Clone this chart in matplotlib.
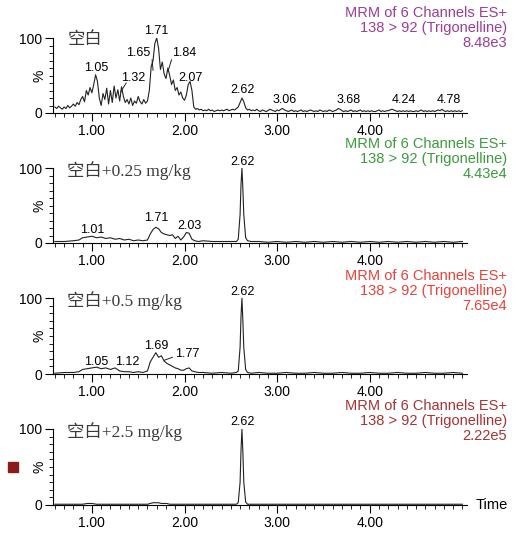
import numpy as np
import matplotlib
matplotlib.use("Agg")
import matplotlib.pyplot as plt
from matplotlib.ticker import MultipleLocator, FixedLocator
from matplotlib.patches import Rectangle

plt.rcParams['font.family'] = ['Liberation Sans', 'Noto Sans CJK SC']

# ---- data -------------------------------------------------------------
# blank sample: scan every 0.02 min from 0.60 to 5.00
t_blank = np.round(np.arange(0.60, 5.001, 0.02), 2)
i_blank = [
    8, 6, 9, 7, 5, 8, 6, 10, 7, 9,
    12, 9, 14, 11, 18, 22, 15, 30, 24, 34,
    27, 38, 51, 42, 20, 10, 26, 18, 33, 12,
    30, 14, 36, 20, 31, 16, 35, 22, 14, 18,
    12, 20, 10, 16, 13, 22, 15, 12, 18, 13,
    16, 30, 62, 70, 93, 100, 86, 58, 68, 52,
    46, 60, 50, 38, 44, 30, 34, 24, 28, 20,
    17, 24, 38, 42, 30, 8, 5, 6, 4, 5, 3,
    4, 3, 5, 3, 4, 2, 3, 4, 3, 4,
    3, 4, 5, 3, 4, 5, 4, 6, 8, 14,
    20, 15, 7, 4, 5, 3, 4, 3, 5, 3,
    2, 4, 3, 2, 3, 5, 4, 3, 2, 4,
    3, 5, 6, 4, 3, 2, 3, 4, 2, 3,
    2, 3, 4, 2, 3, 2, 3, 4, 3, 2,
    3, 2, 4, 3, 2, 3, 2, 4, 3, 2,
    3, 4, 6, 5, 3, 2, 3, 2, 3, 4,
    2, 3, 2, 3, 4, 2, 3, 2, 3, 2,
    3, 2, 2, 3, 4, 2, 3, 2, 3, 3,
    4, 5, 4, 3, 2, 3, 2, 3, 2, 3,
    2, 3, 2, 2, 3, 2, 3, 4, 2, 3,
    2, 3, 2, 3, 2, 3, 4, 3, 5, 3,
    2, 3, 2, 3, 2, 3, 2, 3, 2, 3,
]

# spiked samples
t_spk = [
    0.60, 0.70, 0.80, 0.86, 0.90, 0.95, 1.00, 1.05, 1.10, 1.15,
    1.20, 1.25, 1.30, 1.35, 1.40, 1.45, 1.50, 1.55, 1.60, 1.63,
    1.66, 1.69, 1.72, 1.75, 1.78, 1.81, 1.84, 1.87, 1.90, 1.93,
    1.96, 1.99, 2.02, 2.05, 2.08, 2.11, 2.15, 2.20, 2.30, 2.40,
    2.50, 2.56, 2.58, 2.60, 2.61, 2.62, 2.63, 2.64, 2.66, 2.68,
    2.72, 2.80, 2.90, 3.00, 3.10, 3.20, 3.30, 3.40, 3.50, 3.60,
    3.70, 3.80, 3.90, 4.00, 4.10, 4.20, 4.30, 4.40, 4.50, 4.60,
    4.70, 4.80, 4.90, 5.00,
]
i_025 = [
    2, 2, 3, 4, 7, 8, 9, 7, 8, 6,
    7, 5, 6, 4, 5, 3, 4, 3, 4, 12,
    18, 21, 19, 14, 12, 11, 10, 11, 6, 9,
    4, 8, 14, 13, 5, 3, 2, 3, 2, 2,
    2, 2, 5, 38, 78, 100, 72, 38, 7, 3,
    2, 2, 1, 2, 1, 2, 1, 2, 1, 2,
    1, 2, 1, 2, 1, 2, 1, 2, 1, 2,
    1, 2, 1, 2,
]
i_05 = [
    1, 2, 2, 3, 6, 7, 8, 9, 7, 8,
    6, 8, 4, 3, 3, 2, 3, 2, 4, 16,
    22, 28, 22, 24, 17, 14, 12, 10, 8, 7,
    5, 5, 7, 8, 4, 3, 2, 2, 1, 2,
    1, 2, 4, 35, 76, 100, 70, 35, 6, 2,
    1, 2, 1, 1, 2, 1, 1, 2, 1, 1,
    2, 1, 1, 2, 1, 1, 2, 1, 1, 2,
    1, 1, 2, 1,
]
i_25 = [
    1, 1, 1, 1, 1, 2, 2, 1, 1, 1,
    1, 1, 1, 1, 1, 1, 1, 1, 1, 2,
    3, 3, 3, 2, 2, 2, 1, 1, 1, 1,
    1, 1, 1, 1, 1, 1, 1, 1, 1, 1,
    1, 1, 3, 30, 72, 100, 70, 30, 4, 1,
    1, 1, 1, 1, 1, 1, 1, 1, 1, 1,
    1, 1, 1, 1, 1, 1, 1, 1, 1, 1,
    1, 1, 1, 1,
]

sample_names = ['空白', '空白+0.25 mg/kg', '空白+0.5 mg/kg', '空白+2.5 mg/kg']
max_counts = ['8.48e3', '4.43e4', '7.65e4', '2.22e5']
header_colors = ['#9c3d96', '#3c9b3c', '#e8423a', '#a83232']

# peak labels: (rt, text x, text y, leader?)
peak_labels = [
    [(1.05, 1.05, 60, None), (1.32, 1.45, 47, (1.37, 40, 1.31, 28)),
     (1.65, 1.50, 80, (1.65, 71, 1.66, 57)), (1.71, 1.70, 109, None),
     (1.84, 2.00, 80, (1.86, 71, 1.82, 55)), (2.07, 2.06, 47, None),
     (2.62, 2.63, 31, None), (3.06, 3.08, 17, None), (3.68, 3.77, 17, None),
     (4.24, 4.37, 17, None), (4.78, 4.85, 17, None)],
    [(1.01, 1.00, 17, None), (1.71, 1.70, 33, None), (2.03, 2.05, 23, None),
     (2.62, 2.63, 108, None)],
    [(1.05, 1.05, 16, None), (1.12, 1.38, 16, None), (1.69, 1.69, 37, None),
     (1.77, 2.03, 26, (1.87, 22, 1.78, 18)), (2.62, 2.63, 108, None)],
    [(2.62, 2.63, 109, None)],
]

traces = [(t_blank, i_blank), (t_spk, i_025), (t_spk, i_05), (t_spk, i_25)]

# ---- figure ------------------------------------------------------------
W, H = 514, 533
fig = plt.figure(figsize=(W / 100, H / 100), dpi=100)

zero_px = [113, 243, 374, 505]
top_px = [38, 168, 298, 429]
header_px = [13, 144, 276, 406]
left_px, right_px = 53, 467

for k in range(4):
    ax = fig.add_axes([left_px / W, 1 - zero_px[k] / H,
                       (right_px - left_px) / W, (zero_px[k] - top_px[k]) / H])
    t, y = traces[k]
    ax.plot(t, y, color='#222222', lw=0.8)
    ax.set_xlim(0.58, 5.05)
    ax.set_ylim(0, 100)
    for s in ['top', 'right']:
        ax.spines[s].set_visible(False)
    for s in ['left', 'bottom']:
        ax.spines[s].set_linewidth(0.8)
    ax.xaxis.set_major_locator(FixedLocator([1, 2, 3, 4]))
    ax.set_xticklabels(['1.00', '2.00', '3.00', '4.00'])
    ax.xaxis.set_minor_locator(MultipleLocator(0.1))
    ax.set_yticks([0, 100])
    ax.set_yticklabels(['0', '100'])
    ax.yaxis.set_minor_locator(MultipleLocator(10))
    ax.tick_params(which='major', length=6, width=0.8, labelsize=10, pad=2)
    ax.tick_params(which='minor', length=3, width=0.6)
    ax.text(-0.032, 0.5, '%', transform=ax.transAxes, rotation=90,
            fontsize=10, ha='center', va='center')

    ax.text(0.035, 0.97, sample_names[k], transform=ax.transAxes,
            family=['Liberation Serif', 'Noto Sans CJK SC'], fontsize=12.5,
            color='#3a3a3a', va='center', ha='left')

    for rt, tx, ty, lead in peak_labels[k]:
        ax.text(tx, ty, f'{rt:.2f}', fontsize=9, ha='center', va='center',
                clip_on=False)
        if lead is not None:
            ax.plot([lead[0], lead[2]], [lead[1], lead[3]], color='#222222',
                    lw=0.7, clip_on=False)

    hdr = ['MRM of 6 Channels ES+', '138 > 92 (Trigonelline)', max_counts[k]]
    for j, line in enumerate(hdr):
        fig.text(507 / W, 1 - (header_px[k] + 15 * j) / H, line, ha='right',
                 va='center', fontsize=10.5, color=header_colors[k])

    if k == 3:
        ax.text(1.02, 0, 'Time', transform=ax.transAxes, fontsize=10.5,
                va='center', ha='left')

fig.add_artist(Rectangle((8 / W, 1 - 472 / H), 10 / W, 10 / H,
                         color='#8b1a1a', transform=fig.transFigure))

fig.savefig('out.png', dpi=100)
